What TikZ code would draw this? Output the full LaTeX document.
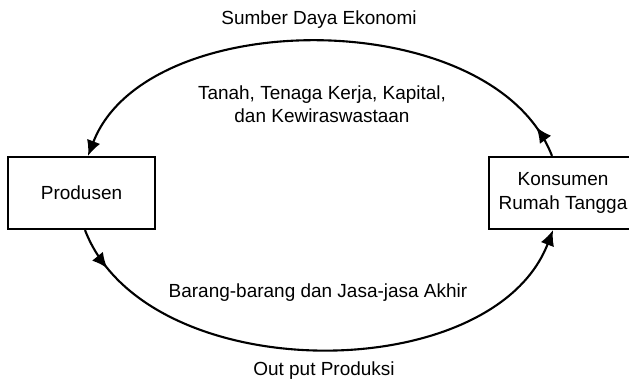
\documentclass[tikz,border=0pt]{standalone}
\usepackage{fontspec}
\setmainfont{Liberation Sans}
\usetikzlibrary{arrows.meta,positioning,decorations.markings}

\begin{document}
\begin{tikzpicture}[
    box/.style={draw, line width=1.5pt, minimum height=1.8cm, align=center,
                font=\fontsize{13.5}{17}\selectfont, inner sep=0pt},
    lbl/.style={align=center, font=\fontsize{13.5}{16}\selectfont},
    flow/.style={line width=1.5pt, -{Latex[length=11pt,width=10pt]}},
    tip/.style={postaction={decorate, decoration={markings,
                mark=at position #1 with {\arrow{Latex[length=11pt,width=10pt]}}}}}
  ]
  \useasboundingbox (0,0) rectangle (15.725,9.575);
  % Boxes
  \node[box, minimum width=3.675cm] (pro) at (2.0375,4.75) {Produsen};
  \node[box, minimum width=3.7cm] (kon) at (14.075,4.75) {Konsumen\\Rumah Tangga};
  % Circular flow
  \draw[flow, tip=0.06] ([xshift=-0.275cm]kon.north)
    to[out=111, in=69, looseness=0.9] ([xshift=0.1625cm]pro.north);
  \draw[flow, tip=0.08] ([xshift=0.0875cm]pro.south)
    to[out=-69, in=-111, looseness=0.93] ([xshift=-0.25cm]kon.south);
  % Labels
  \node[lbl] (sde) at (7.975,9.075) {Sumber Daya Ekonomi};
  \node[lbl] (fak) at (8.05,6.975) {Tanah, Tenaga Kerja, Kapital,\\dan Kewiraswastaan};
  \node[lbl] (bjs) at (7.95,2.25) {Barang-barang dan Jasa-jasa Akhir};
  \node[lbl] (out) at (8.1,0.3) {Out put Produksi};
\end{tikzpicture}
\end{document}
